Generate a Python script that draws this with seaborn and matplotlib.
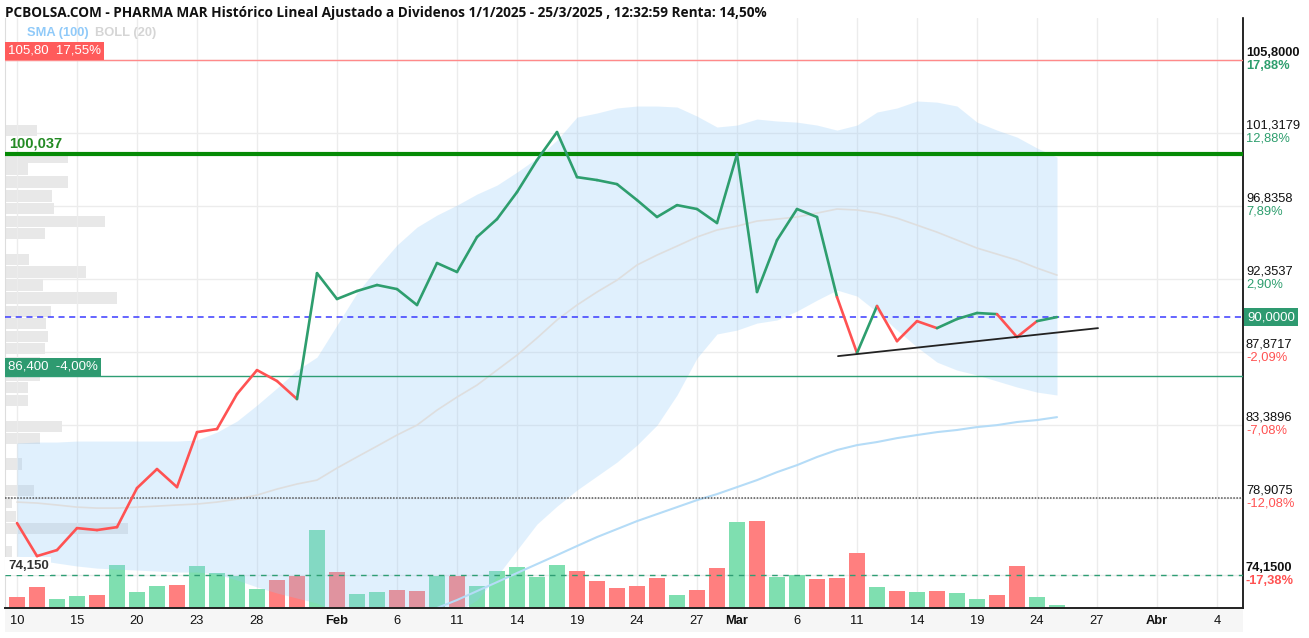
import numpy as np
import seaborn as sns
import matplotlib.pyplot as plt
from matplotlib.collections import LineCollection

# trading-day closes, 10 Jan 2025 .. 25 Mar 2025
price = [77.34, 75.31, 75.68, 77.03, 76.91, 77.09, 79.49, 80.66, 79.55, 82.93, 83.12, 85.27, 86.74, 86.07, 84.96, 92.70,
         91.11, 91.60, 91.97, 91.72, 90.74, 93.32, 92.77, 94.92, 96.02, 97.68, 99.65, 101.37, 98.60, 98.42, 98.17, 97.19,
         96.15, 96.88, 96.64, 95.78,
         100.00, 91.54, 94.73, 96.64, 96.15, 91.23, 87.79, 90.68, 88.52, 89.75, 89.32, 89.88, 90.25, 90.18, 88.77, 89.75,
         90.00]
# colour of each segment of the price line (g = up, r = down)
seg_dir = list('r' * 14 + 'g' * 27 + 'rgrrrgggrrg')

volume = [11, 21, 9, 12, 13, 43, 16, 22, 23, 42, 35, 32, 19, 28, 32, 78,
          36, 14, 16, 18, 17, 32, 32, 22, 37, 41, 31, 43, 37, 27, 20, 22, 30, 13, 18, 40,
          86, 87, 31, 33, 29, 30, 55, 21, 17, 16, 17, 15, 9, 13, 42, 11, 3]
vol_dir = list('rrggrgggrggggrrg' + 'rggrrgrggggg' + 'rrrrrgrr' + 'grggrrrgrgrggrrgg')

boll_up = [82.26, 82.32, 82.32, 82.38, 82.38, 82.38, 82.38, 82.38, 82.38, 82.44, 82.93, 83.61, 84.59, 85.64, 86.74, 87.54,
           89.51, 91.48, 93.01, 94.43, 95.53, 96.27, 96.88, 97.56, 98.11, 98.91, 99.77, 100.88, 102.29, 102.54, 102.85,
           102.97, 102.97, 102.91, 102.35, 101.68,
           101.80, 102.17, 102.05, 101.98, 101.80, 101.49, 101.80, 102.60, 102.85, 103.28, 103.21, 102.97, 101.98, 101.49,
           101.06, 100.39, 99.83]
boll_mid = [78.63, 78.57, 78.45, 78.32, 78.26, 78.26, 78.32, 78.38, 78.45, 78.51, 78.63, 78.81, 79.06, 79.43, 79.74, 79.98,
            80.72, 81.40, 82.07, 82.75, 83.36, 84.28, 85.08, 85.82, 86.74, 87.66, 88.71, 89.82, 90.74, 91.54, 92.27,
            93.20, 93.81, 94.36, 94.92, 95.35,
            95.59, 95.90, 96.02, 96.15, 96.39, 96.64, 96.58, 96.39, 96.08, 95.65, 95.22, 94.73, 94.24, 93.87, 93.50,
            93.01, 92.58]
boll_low = [75.31, 75.07, 74.88, 74.70, 74.57, 74.51, 74.45, 74.39, 74.33, 74.33, 74.20, 73.84, 73.41, 73.04, 72.73, 72.42,
            71.87, 71.38, 71.13, 71.01, 71.01, 71.25, 71.87, 72.61, 74.08, 75.68, 77.28, 78.38, 79.37, 80.23, 81.09,
            82.13, 83.36, 85.21, 87.48, 88.96,
            89.20, 89.63, 89.82, 90.37, 91.04, 91.66, 91.29, 90.31, 89.20, 88.16, 87.23, 86.74, 86.44, 86.07, 85.70,
            85.39, 85.21]
sma_start = 20  # SMA(100) visible from 7 Feb
sma100 = [71.56, 72.12, 72.61, 73.16, 73.71, 74.27, 74.82, 75.37, 75.93, 76.48, 76.97, 77.46, 77.89, 78.32, 78.75, 79.12,
          79.55, 79.98, 80.47, 80.90, 81.40, 81.83, 82.13, 82.32, 82.56, 82.75, 82.93, 83.06, 83.24, 83.36, 83.55,
          83.67, 83.85]

prof_price = [75.56, 77.00, 77.77, 78.60, 79.37, 80.97, 82.53, 83.30, 84.90, 85.67, 86.44, 87.23, 88.09, 88.83, 89.63,
              90.37, 91.17, 91.97, 92.77, 93.56, 95.16, 95.90, 96.67, 97.44, 98.30, 99.10, 99.83, 101.46]
prof_vol = [7, 123, 11, 7, 29, 17, 35, 57, 23, 23, 35, 35, 40, 43, 41, 46, 112, 38, 81, 24, 40, 100, 49, 47, 63, 23, 63, 32]

trend_x = [41.05, 54.05]
trend_y = [87.60, 89.32]

ytick_vals = [74.15, 78.9075, 83.3896, 87.8717, 92.3537, 96.8358, 101.3179, 105.8]
ytick_pct = [-17.38, -12.08, -7.08, -2.09, 2.90, 7.89, 12.88, 17.88]
xtick_pos = [0, 3, 6, 9, 12, 16, 19, 22, 25, 28, 31, 34, 36, 39, 42, 45, 48, 51, 54, 57, 60]
xtick_lbl = ['10', '15', '20', '23', '28', 'Feb', '6', '11', '14', '19', '24', '27', 'Mar', '6', '11', '14', '19',
             '24', '27', 'Abr', '4']
months = ['Feb', 'Mar', 'Abr']

title = ('PCBOLSA.COM - PHARMA MAR Histórico Lineal Ajustado a Dividenos 1/1/2025 - 25/3/2025 , '
         '12:32:59 Renta: 14,50%')

GREEN = '#2e9e6e'
RED = '#ff5252'

sns.set_theme(style='white')
plt.rcParams['font.family'] = ['Liberation Sans', 'DejaVu Sans']

W, H = 1309, 638
fig = plt.figure(figsize=(W / 100, H / 100), dpi=100)
pos = [5 / W, 30 / H, 1238 / W, 590 / H]

ax_prof = fig.add_axes(pos)
ax = fig.add_axes(pos, sharey=ax_prof)
ax_vol = fig.add_axes(pos, sharex=ax)
ax_prof.set_zorder(1)
ax_vol.set_zorder(2)
ax.set_zorder(3)
ax.patch.set_visible(False)
ax_vol.patch.set_visible(False)
ax_prof.set_facecolor('white')

# label band under the x axis
fig.patches.append(plt.Rectangle((5 / W, 6 / H), 1238 / W, 24 / H, transform=fig.transFigure,
                                 facecolor='#f6f6f6', edgecolor='none', zorder=0))

idx = np.arange(len(price))

# volume profile (bottom layer)
ax_prof.barh(prof_price, prof_vol, height=0.68, color='#e8e8e8', linewidth=0)
ax_prof.set_xlim(0, 1238)
ax_prof.set_ylim(72.12, 108.38)
ax_prof.set_yticks(ytick_vals)
ax_prof.yaxis.grid(True, color='#ececec', linewidth=1)
ax_prof.xaxis.grid(False)
ax_prof.tick_params(left=False, right=False, bottom=False, labelleft=False, labelbottom=False)
for s in ax_prof.spines.values():
    s.set_visible(False)

# volume bars
vol_col = {'g': '#7fdfb0', 'r': '#ff7f7f'}
ax_vol.bar(idx, volume, width=0.8, color=[vol_col[d] for d in vol_dir], linewidth=0)
ax_vol.set_ylim(0, 6.8 * max(volume))
ax_vol.xaxis.grid(True, color='#ececec', linewidth=1)
ax_vol.yaxis.grid(False)
ax_vol.tick_params(left=False, right=False, bottom=False, labelleft=False, labelbottom=False)
for s in ax_vol.spines.values():
    s.set_visible(False)

# price axes (top layer)
ax.fill_between(idx, boll_low, boll_up, color='#90caf9', alpha=0.27, linewidth=0, zorder=1)
sns.lineplot(x=idx, y=boll_mid, ax=ax, color='#dedede', linewidth=1.2, zorder=2)
sns.lineplot(x=idx[sma_start:], y=sma100, ax=ax, color='#b5dcf7', linewidth=1.5, zorder=2)

ax.axhline(105.8, color='#ff8a8a', linewidth=1.0, zorder=3)
ax.axhline(100.037, color='#058a05', linewidth=3.0, zorder=3)
ax.axhline(90.0, color='#3a3aff', linewidth=1.1, dashes=(4, 3), zorder=3)
ax.axhline(86.4, color='#2e9e74', linewidth=1.0, zorder=3)
ax.axhline(78.9075, color='#555555', linewidth=1.1, dashes=(1, 1), zorder=3)
ax.axhline(74.15, color='#2e9e74', linewidth=1.0, dashes=(4, 4), zorder=3)

pts = np.column_stack([idx, price])
segs = np.stack([pts[:-1], pts[1:]], axis=1)
seg_col = {'g': GREEN, 'r': RED}
lc = LineCollection(segs, colors=[seg_col[d] for d in seg_dir], linewidths=1.9,
                    capstyle='round', joinstyle='round', zorder=5)
ax.add_collection(lc)
ax.plot(trend_x, trend_y, color='#222222', linewidth=1.3, zorder=6)

ax.set_xlim(-0.6, 61.3)
ax.set_ylim(72.12, 108.38)
ax.set_xticks(xtick_pos)
ax.set_xticklabels(xtick_lbl, fontsize=9.3, color='#111111')
for lbl in ax.get_xticklabels():
    if lbl.get_text() in months:
        lbl.set_fontweight('bold')
ax.tick_params(axis='x', length=0, pad=5)
ax.tick_params(axis='y', left=False, right=False, labelleft=False, labelright=False)
ax.set_xlabel('')
ax.set_ylabel('')
ax.grid(False)
ax.spines['top'].set_visible(False)
ax.spines['left'].set_color('#dddddd')
ax.spines['left'].set_linewidth(0.8)
ax.spines['right'].set_color('black')
ax.spines['right'].set_linewidth(1.2)
ax.spines['bottom'].set_color('#222222')
ax.spines['bottom'].set_linewidth(1.4)

# right-hand price / percent labels
ytr = ax.get_yaxis_transform()
for v, p in zip(ytick_vals, ytick_pct):
    bold = v in (ytick_vals[0], ytick_vals[-1])
    ax.annotate(f'{v:.4f}'.replace('.', ','), xy=(1, v), xycoords=ytr, xytext=(3, 1),
                textcoords='offset pixels', ha='left', va='bottom', fontsize=9.3,
                fontweight='bold' if bold else 'normal', color='#111111', annotation_clip=False)
    ax.annotate(f'{p:.2f}%'.replace('.', ','), xy=(1, v), xycoords=ytr, xytext=(3, 0),
                textcoords='offset pixels', ha='left', va='top', fontsize=9.3,
                fontweight='bold' if bold else 'normal', color=GREEN if p > 0 else RED,
                annotation_clip=False)

ax.annotate('90,0000', xy=(1, 90.0), xycoords=ytr, xytext=(4, 0), textcoords='offset pixels',
            ha='left', va='center', fontsize=9.5, color='white', annotation_clip=False,
            bbox=dict(boxstyle='square,pad=0.22', fc='#2e9a70', ec='none'))

# left level labels
ax.annotate('105,80  17,55%', xy=(0, 105.8), xycoords=ytr, xytext=(3, 3), textcoords='offset pixels',
            ha='left', va='bottom', fontsize=9.5, color='white', annotation_clip=False,
            bbox=dict(boxstyle='square,pad=0.22', fc='#ff5b5b', ec='none'))
ax.annotate('86,400  -4,00%', xy=(0, 86.4), xycoords=ytr, xytext=(3, 3), textcoords='offset pixels',
            ha='left', va='bottom', fontsize=9.5, color='white', annotation_clip=False,
            bbox=dict(boxstyle='square,pad=0.22', fc='#2e9a70', ec='none'))
ax.annotate('100,037', xy=(0, 100.037), xycoords=ytr, xytext=(4, 3), textcoords='offset pixels',
            ha='left', va='bottom', fontsize=10.5, fontweight='bold', color='#238a23',
            annotation_clip=False)
ax.annotate('74,150', xy=(0, 74.15), xycoords=ytr, xytext=(3, 3), textcoords='offset pixels',
            ha='left', va='bottom', fontsize=9.5, fontweight='bold', color='#333333',
            annotation_clip=False, bbox=dict(boxstyle='square,pad=0.2', fc='white', ec='none'))

fig.text(5 / W, 1 - 13 / H, title, fontsize=9.8, fontweight='bold', va='center', ha='left',
         family=['Open Sans', 'DejaVu Sans'], color='#111111')
fig.text(27 / W, 1 - 33 / H, 'SMA (100)', fontsize=9.3, fontweight='bold', va='center', color='#90caf9')
fig.text(95 / W, 1 - 33 / H, 'BOLL (20)', fontsize=9.3, fontweight='bold', va='center', color='#d5d5d5')

fig.savefig('out.png', dpi=100)
